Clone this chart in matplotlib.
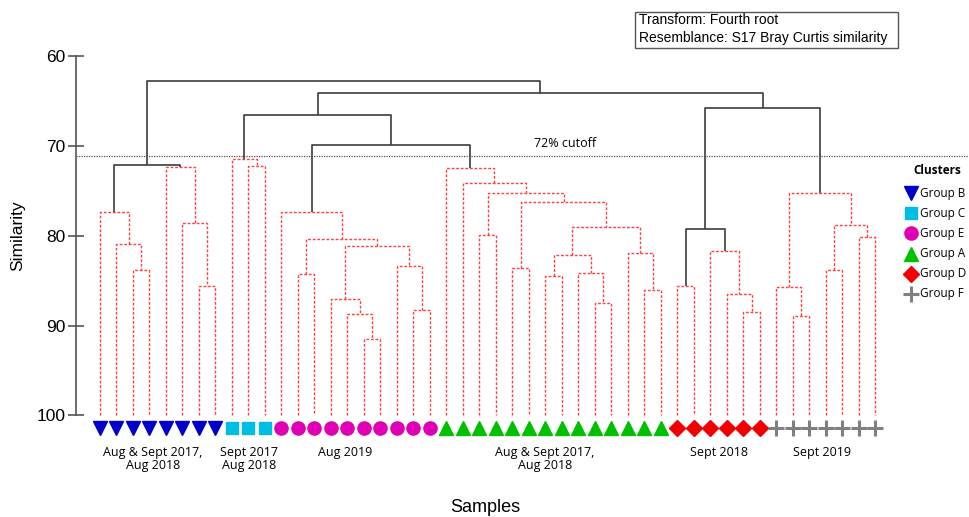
import matplotlib.pyplot as plt
from matplotlib.patches import Rectangle

# cluster groups in leaf order
group_names = ['Group B', 'Group C', 'Group E', 'Group A', 'Group D', 'Group F']
group_sizes = [8, 3, 10, 14, 6, 7]
group_colors = ['#0000c8', '#00bde3', '#e000b4', '#00c000', '#f00000', '#808080']
group_markers = ['v', 's', 'o', '^', 'D', '+']
group_labels = ['Aug & Sept 2017,\nAug 2018', 'Sept 2017\nAug 2018', 'Aug 2019',
                'Aug & Sept 2017,\nAug 2018', 'Sept 2018', 'Sept 2019']

# linkage: node ids 0-47 are samples, new nodes numbered from 48
merge_left = [2, 1, 0, 6, 5, 4, 50,
              9, 8,
              12, 16, 15, 14, 19, 18, 60, 57, 11,
              23, 25, 27, 30, 29, 68, 33, 32, 71, 67, 66, 22, 21,
              35, 39, 38, 37, 79,
              42, 41, 44, 46, 86, 85,
              65, 56, 83, 91, 54]
merge_right = [3, 48, 49, 7, 51, 52, 53,
               10, 55,
               13, 17, 58, 59, 20, 61, 62, 63, 64,
               24, 26, 28, 31, 69, 70, 34, 72, 73, 74, 75, 76, 77,
               36, 40, 80, 81, 82,
               43, 84, 45, 47, 87, 88,
               78, 90, 89, 92, 93]
merge_sim = [83.8, 80.9, 77.4, 85.6, 78.6, 72.4, 72.1,
             72.2, 71.5,
             84.3, 91.5, 88.7, 87.1, 88.3, 83.4, 81.1, 80.4, 77.4,
             79.9, 83.6, 84.5, 87.5, 84.2, 82.2, 86.0, 81.9, 79.0, 76.3, 75.2, 74.1, 72.5,
             85.6, 88.5, 86.5, 81.7, 79.3,
             88.9, 85.7, 83.8, 80.2, 78.8, 75.2,
             69.9, 66.6, 65.8, 64.1, 62.8]
# SIMPROF: True = significant structure (solid black)
merge_sig = [False] * 6 + [True] + [False] * 35 + [True] * 5
merge_sig[35] = True

cutoff = 71.1

n = sum(group_sizes)
xpos = {i: float(i) for i in range(n)}
ypos = {i: 100.0 for i in range(n)}

fig = plt.figure(figsize=(9.7, 5.17), dpi=100)
W, H = 970, 517
ax = fig.add_axes([76 / W, 1 - 440 / H, (W - 76) / W, (440 - 56) / H])
ax.set_xlim(-1.4545, -1.4545 + (W - 76) / 16.5)
ax.set_ylim(60 + (440 - 56) / 8.985, 60)

for k, (a, b, s, sig) in enumerate(zip(merge_left, merge_right, merge_sim, merge_sig)):
    node = n + k
    xa, xb = xpos[a], xpos[b]
    if sig:
        kw = dict(color='#3c3c3c', lw=1.2, solid_capstyle='butt')
    else:
        kw = dict(color='#ff4040', lw=1.0, dashes=(2, 1.3))
    ax.plot([xa, xa, xb, xb], [ypos[a], s, s, ypos[b]], clip_on=False, **kw)
    xpos[node] = (xa + xb) / 2
    ypos[node] = s

marker_size = {'v': 10, 's': 9, 'o': 9.5, '^': 10, 'D': 8}

# sample symbols under the leaves
start = 0
for name, size, col, mk in zip(group_names, group_sizes, group_colors, group_markers):
    xs = list(range(start, start + size))
    if mk == '+':
        ax.plot(xs, [101.4] * size, ls='none', marker='+', ms=12, mew=2.2, color=col, clip_on=False)
    else:
        ax.plot(xs, [101.4] * size, ls='none', marker=mk, ms=marker_size[mk], color=col,
                mec=col, clip_on=False)
    start += size

# cutoff line
ax.plot([-1.4545, 60], [cutoff, cutoff], color='#505050', lw=0.9, dashes=(1, 1), clip_on=True)
ax.text(28.2, cutoff - 0.6, '72% cutoff', fontsize=9, family='Open Sans', ha='center', va='bottom')

# axis styling
for side in ['top', 'right', 'bottom']:
    ax.spines[side].set_visible(False)
ax.spines['left'].set_bounds(60, 100)
ax.spines['left'].set_color('#555555')
ax.spines['left'].set_linewidth(1.2)
ax.set_yticks([60, 70, 80, 90, 100])
ax.tick_params(axis='y', direction='inout', length=11, width=1.2, color='#555555',
               labelsize=12.5, pad=2)
for lab in ax.get_yticklabels():
    lab.set_family('Liberation Sans')
ax.set_xticks([])

fig.text(18 / W, 1 - 236 / H, 'Similarity', rotation=90, ha='center', va='center',
         fontsize=12.5, family='Liberation Sans')
fig.text(485 / W, 1 - 508 / H, 'Samples', ha='center', va='center',
         fontsize=13, family='Liberation Sans')

# group captions
label_x = [153, 249, 345, 545, 719, 822]
for lx, txt in zip(label_x, group_labels):
    fig.text(lx / W, 1 - 446 / H, txt, ha='center', va='top', fontsize=9,
             family='Open Sans', linespacing=1.0)

# info box
fig.patches.append(Rectangle((635 / W, 1 - 48 / H), 263 / W, 36 / H, transform=fig.transFigure,
                             fill=False, edgecolor='#555555', lw=1))
fig.text(639 / W, 1 - 20 / H, 'Transform: Fourth root', va='center', fontsize=10,
         family='Liberation Sans')
fig.text(639 / W, 1 - 38 / H, 'Resemblance: S17 Bray Curtis similarity', va='center',
         fontsize=10, family='Liberation Sans')

# cluster legend
fig.text(913 / W, 1 - 171 / H, 'Clusters', va='center', fontsize=8.5, fontweight='bold',
         family='Open Sans')
for j, (name, col, mk) in enumerate(zip(group_names, group_colors, group_markers)):
    yy = 1 - (193 + 20.2 * j) / H
    if mk == '+':
        fig.lines.append(plt.Line2D([911 / W], [yy], marker='+', ms=12, mew=2.2, color=col,
                                    transform=fig.transFigure))
    else:
        fig.lines.append(plt.Line2D([911 / W], [yy], marker=mk, ms=marker_size[mk], color=col,
                                    transform=fig.transFigure))
    fig.text(920 / W, yy, name, va='center', fontsize=8.5, family='Open Sans')

fig.savefig('out.png', dpi=100)
